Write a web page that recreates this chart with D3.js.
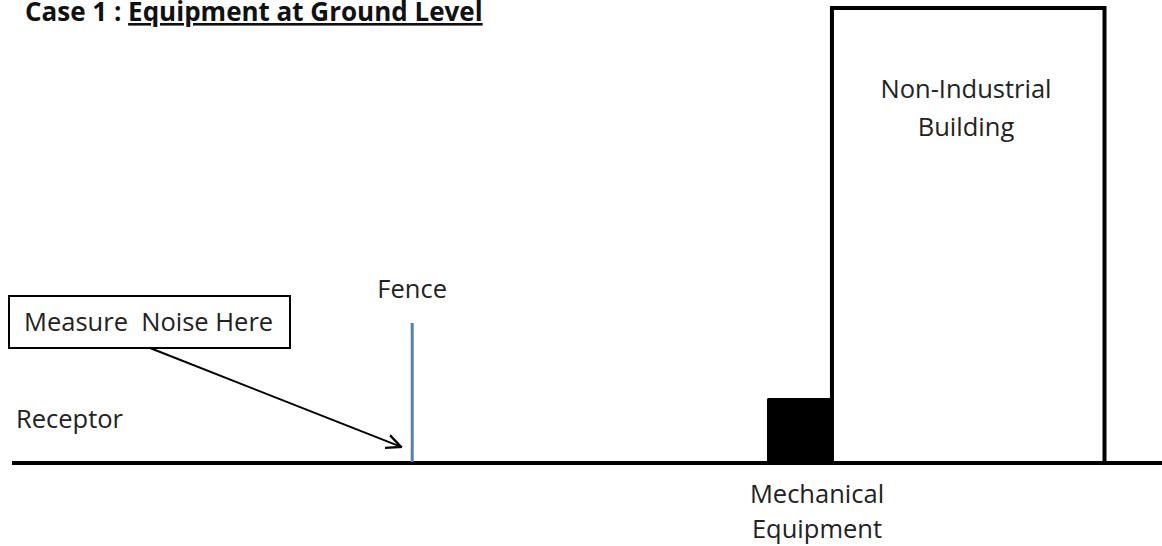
<!DOCTYPE html>
<html>
<head>
<meta charset="utf-8">
<script src="https://cdn.jsdelivr.net/npm/d3@7"></script>
<style>
  html, body { margin: 0; padding: 0; background: #fff; }
  svg { display: block; font-family: "Open Sans", "Noto Sans", sans-serif; }
</style>
</head>
<body>
<svg id="chart" width="1162" height="546"></svg>
<script>
// Site section (units: metres along ground, metres of height)
const groundExtent = [0, 100];
const heightExtent = [0, 40];

const fenceAt = 34.8;
const fenceHeight = 12.2;
const equipment = { from: 65.65, to: 71.3, height: 5.66 };
const building = { from: 71.3, to: 95.0, height: 39.65 };

const labels = ["Receptor", "Fence", "Measure  Noise Here"];
const buildingLabel = ["Non-Industrial", "Building"];
const equipmentLabel = ["Mechanical", "Equipment"];
const titlePrefix = "Case 1 : ";
const titleMain = "Equipment at Ground Level";

function draw() {
  const svg = d3.select("#chart");
  const width = 1162;

  const x = d3.scaleLinear().domain(groundExtent).range([12, 1162]);
  const y = d3.scaleLinear().domain(heightExtent).range([463, 4]);

  const defs = svg.append("defs");
  defs.append("marker")
    .attr("id", "arrow")
    .attr("viewBox", "0 -7 14 14")
    .attr("refX", 13)
    .attr("refY", 0)
    .attr("markerWidth", 16)
    .attr("markerHeight", 16)
    .attr("markerUnits", "userSpaceOnUse")
    .attr("orient", "auto")
    .append("path")
    .attr("d", "M0,-6L13,0L0,6")
    .attr("fill", "none")
    .attr("stroke", "#000")
    .attr("stroke-width", 2);

  // title (sits right at the top edge, as in the source slide)
  const title = svg.append("text")
    .attr("x", 25)
    .attr("y", 21)
    .attr("font-size", 26)
    .attr("font-weight", "bold")
    .attr("fill", "#111");
  title.append("tspan").text(titlePrefix);
  title.append("tspan").text(titleMain).attr("text-decoration", "underline");

  // building
  svg.append("rect")
    .attr("x", x(building.from))
    .attr("y", y(building.height))
    .attr("width", x(building.to) - x(building.from))
    .attr("height", y(0) - y(building.height))
    .attr("fill", "#fff")
    .attr("stroke", "#000")
    .attr("stroke-width", 4);

  // equipment
  svg.append("rect")
    .attr("x", x(equipment.from))
    .attr("y", y(equipment.height))
    .attr("width", x(equipment.to) - x(equipment.from))
    .attr("height", y(0) - y(equipment.height))
    .attr("rx", 1.5)
    .attr("fill", "#000");

  // ground
  svg.append("line")
    .attr("x1", 12).attr("x2", width)
    .attr("y1", y(0)).attr("y2", y(0))
    .attr("stroke", "#000")
    .attr("stroke-width", 4);

  // fence
  svg.append("line")
    .attr("x1", x(fenceAt)).attr("x2", x(fenceAt))
    .attr("y1", y(fenceHeight)).attr("y2", y(0) - 1)
    .attr("stroke", "#5581b0")
    .attr("stroke-width", 3);

  // measure box + arrow
  svg.append("rect")
    .attr("x", 9).attr("y", 296)
    .attr("width", 281).attr("height", 52)
    .attr("fill", "#fff")
    .attr("stroke", "#000")
    .attr("stroke-width", 2);

  svg.append("line")
    .attr("x1", 150).attr("y1", 348)
    .attr("x2", x(fenceAt) - 11).attr("y2", y(1.4))
    .attr("stroke", "#000")
    .attr("stroke-width", 2)
    .attr("marker-end", "url(#arrow)");

  const textStyle = (sel) => sel.attr("font-size", 25.5).attr("fill", "#222");

  svg.append("text").call(textStyle)
    .attr("x", 24).attr("y", 331)
    .attr("xml:space", "preserve")
    .text(labels[2]);

  svg.append("text").call(textStyle)
    .attr("x", 16).attr("y", 428)
    .text(labels[0]);

  svg.append("text").call(textStyle)
    .attr("x", x(fenceAt)).attr("y", 298)
    .attr("text-anchor", "middle")
    .text(labels[1]);

  svg.append("g").selectAll("text")
    .data(buildingLabel)
    .join("text").call(textStyle)
    .attr("x", 966)
    .attr("y", (d, i) => 98 + i * 38)
    .attr("text-anchor", "middle")
    .text((d) => d);

  svg.append("g").selectAll("text")
    .data(equipmentLabel)
    .join("text").call(textStyle)
    .attr("x", 817)
    .attr("y", (d, i) => 503 + i * 35)
    .attr("text-anchor", "middle")
    .text((d) => d);
}

draw();
</script>
</body>
</html>
